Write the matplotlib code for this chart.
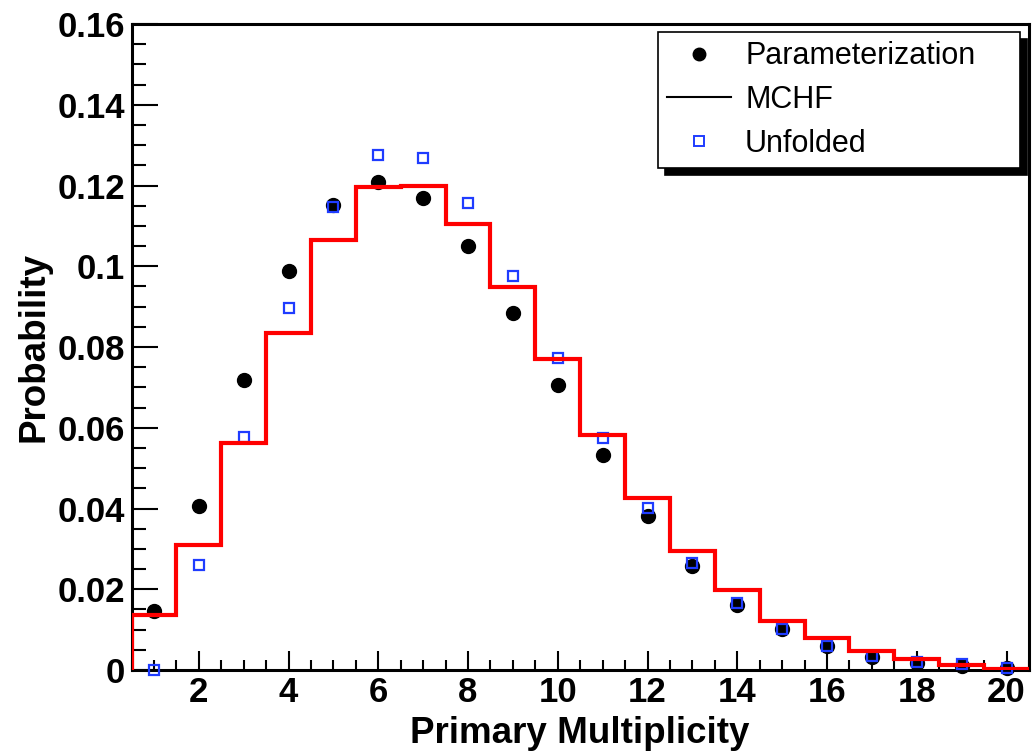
import numpy as np
import matplotlib.pyplot as plt
from matplotlib.lines import Line2D
from matplotlib.ticker import MultipleLocator, FuncFormatter

plt.rcParams['font.family'] = ['Liberation Sans', 'DejaVu Sans']

multiplicity = np.arange(1, 21)

# parameterized probability for each primary multiplicity
param = [0.0145, 0.0406, 0.0718, 0.0988, 0.1151, 0.1208, 0.1168, 0.1050, 0.0884, 0.0705,
         0.0532, 0.0381, 0.0257, 0.0161, 0.0101, 0.0059, 0.0032, 0.0017, 0.0010, 0.0005]

# unfolded distribution
unfolded = [0.0000, 0.0260, 0.0577, 0.0896, 0.1146, 0.1275, 0.1267, 0.1156, 0.0975, 0.0772,
            0.0574, 0.0401, 0.0265, 0.0166, 0.0101, 0.0060, 0.0035, 0.0020, 0.0015, 0.0006]

# MCHF histogram contents, one bin per multiplicity
mchf = [0.0136, 0.0310, 0.0562, 0.0834, 0.1064, 0.1196, 0.1200, 0.1104, 0.0948, 0.0770,
        0.0582, 0.0426, 0.0295, 0.0198, 0.0121, 0.0079, 0.0047, 0.0027, 0.0012, 0.0002]
bin_edges = np.arange(0.5, 21.0, 1.0)

blue = '#1f3cff'

fig = plt.figure(figsize=(10.33, 7.53), dpi=100)
ax = fig.add_axes([0.1273, 0.1102, 0.8688, 0.8579])

ax.plot(multiplicity, param, 'o', color='black', markersize=10, clip_on=False, zorder=3)
ax.plot(multiplicity, unfolded, 's', color=blue, markersize=7.5, mfc='none', mew=1.6,
        clip_on=False, zorder=4)
ax.stairs(mchf, bin_edges, baseline=0, color='red', lw=3, zorder=5)

ax.set_xlim(0.5, 20.5)
ax.set_ylim(0, 0.16)

ax.xaxis.set_major_locator(MultipleLocator(2))
ax.xaxis.set_minor_locator(MultipleLocator(0.5))
ax.yaxis.set_major_locator(MultipleLocator(0.02))
ax.yaxis.set_minor_locator(MultipleLocator(0.005))
ax.yaxis.set_major_formatter(FuncFormatter(lambda v, p: '%g' % round(v, 3)))

ax.tick_params(axis='both', which='both', direction='in', width=1.5,
               top=False, right=False, labelsize=25)
ax.tick_params(axis='x', which='major', length=14, pad=4)
ax.tick_params(axis='x', which='minor', length=7)
ax.tick_params(axis='y', which='major', length=19, pad=4.5)
ax.tick_params(axis='y', which='minor', length=10)
for lab in ax.get_xticklabels() + ax.get_yticklabels():
    lab.set_fontweight('bold')

for sp in ax.spines.values():
    sp.set_linewidth(2.2)

ax.set_xlabel('Primary Multiplicity', fontsize=26.5, fontweight='bold')
ax.xaxis.set_label_coords(0.5, -0.071)
ax.set_ylabel('Probability', fontsize=26.5, fontweight='bold')
ax.yaxis.set_label_coords(-0.089, 0.5)

handles = [
    Line2D([], [], ls='none', marker='o', color='black', markersize=9),
    Line2D([], [], color='black', lw=1.5),
    Line2D([], [], ls='none', marker='s', color=blue, mfc='none', markersize=6.5, mew=1.4),
]
leg = ax.legend(handles, ['Parameterization', 'MCHF', 'Unfolded'],
                loc='upper left', bbox_to_anchor=(0.5866, 0.7817, 0.4034, 0.2059),
                mode='expand', borderaxespad=0, fontsize=22, fancybox=False,
                framealpha=1, edgecolor='black', borderpad=0.3, labelspacing=0.45,
                handlelength=2.1, handletextpad=0.45,
                shadow={'ox': 5, 'oy': -5, 'facecolor': 'black', 'edgecolor': 'black', 'alpha': 1})
leg.get_frame().set_linewidth(1.2)

fig.savefig('out.png', dpi=100)
